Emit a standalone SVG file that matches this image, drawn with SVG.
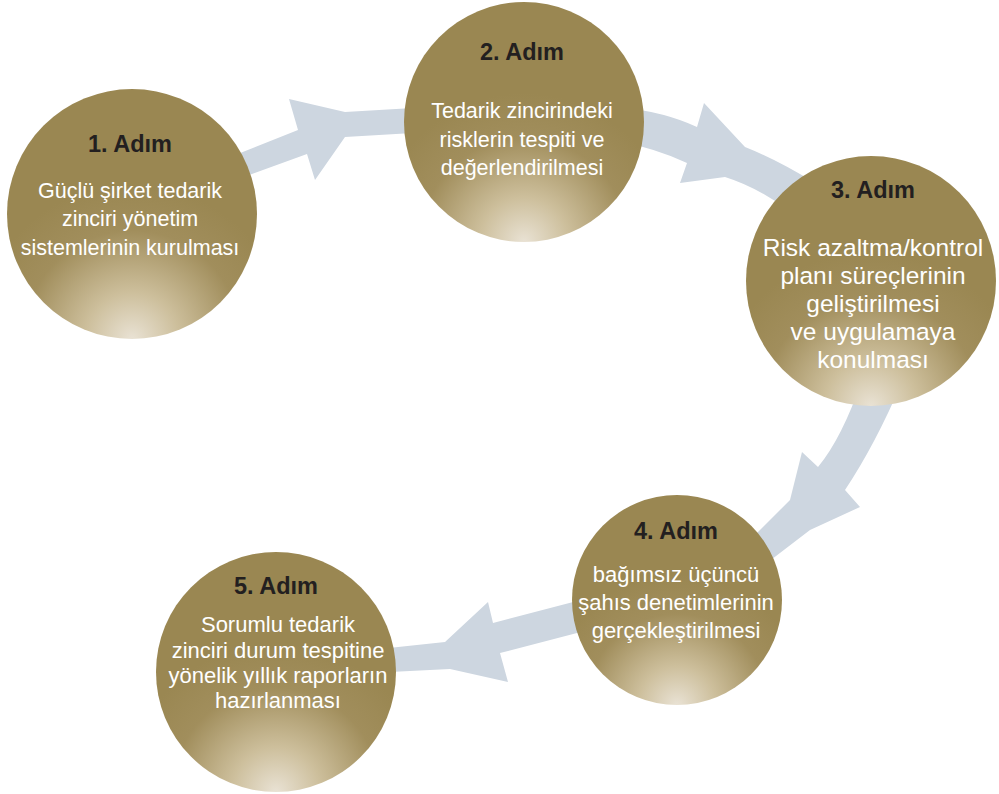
<svg xmlns="http://www.w3.org/2000/svg" width="999" height="794" viewBox="0 0 999 794">
<defs>
<radialGradient id="gold" cx="0.5" cy="1" r="0.62" fx="0.5" fy="1">
<stop offset="0" stop-color="#e9e2d4"/>
<stop offset="0.3" stop-color="#cdbf9c"/>
<stop offset="0.7" stop-color="#a18e5c"/>
<stop offset="1" stop-color="#9a8752"/>
</radialGradient>
<style>
.c{fill:url(#gold)}
.a{fill:#cdd6e0}
.t{font-family:"Liberation Sans",Arial,sans-serif;font-weight:bold;font-size:23.5px;fill:#231f20;text-anchor:middle}
.b{font-family:"Liberation Sans",Arial,sans-serif;font-size:21.5px;fill:#ffffff;text-anchor:middle}
.b3{font-size:24.5px}
.b4{font-size:22px}
</style>
</defs>
<rect width="999" height="794" fill="#ffffff"/>
<g id="connectors">
<path class="a" d="M215,163 L298,130 L289,99 L345,112 L430,107 L430,132 L345,137 L315,180 L307,154 L222,185 Z"/>
<path class="a" d="M620,107 Q665,112 697,127 L704,103 L745,147 Q778,160 815,183 L795,215 Q760,188 725,177 L680,183 L687,163 Q655,148 620,142 Z"/>
<path class="a" d="M862,380 Q842,438 818,467 L802,452 L790,500 L740,550 L750,576 L810,530 L860,507 L845,490 Q875,445 902,382 Z"/>
<path class="a" d="M600,595 L493,623 L488,602 L445,642 L370,650 L370,673 L450,669 L508,682 L500,653 L600,627 Z"/>
</g>
<g id="step1">
<circle class="c" cx="132" cy="214" r="125"/>
<text class="t" x="130" y="152">1. Adım</text>
<text class="b" x="130" y="198">Güçlü şirket tedarik</text>
<text class="b" x="130" y="226">zinciri yönetim</text>
<text class="b" x="130" y="255">sistemlerinin kurulması</text>
</g>
<g id="step2">
<circle class="c" cx="524" cy="122" r="120"/>
<text class="t" x="522" y="60">2. Adım</text>
<text class="b" x="522" y="118">Tedarik zincirindeki</text>
<text class="b" x="522" y="147">risklerin tespiti ve</text>
<text class="b" x="522" y="175">değerlendirilmesi</text>
</g>
<g id="step3">
<circle class="c" cx="871" cy="281" r="125"/>
<text class="t" x="873" y="198">3. Adım</text>
<text class="b b3" x="873" y="256">Risk azaltma/kontrol</text>
<text class="b b3" x="873" y="284">planı süreçlerinin</text>
<text class="b b3" x="873" y="312">geliştirilmesi</text>
<text class="b b3" x="873" y="340">ve uygulamaya</text>
<text class="b b3" x="873" y="368">konulması</text>
</g>
<g id="step4">
<circle class="c" cx="677" cy="600" r="105"/>
<text class="t" x="676" y="539">4. Adım</text>
<text class="b b4" x="676" y="582">bağımsız üçüncü</text>
<text class="b b4" x="676" y="610">şahıs denetimlerinin</text>
<text class="b b4" x="676" y="638">gerçekleştirilmesi</text>
</g>
<g id="step5">
<circle class="c" cx="276" cy="672" r="120"/>
<text class="t" x="276" y="594">5. Adım</text>
<text class="b b4" x="278" y="632">Sorumlu tedarik</text>
<text class="b b4" x="278" y="658">zinciri durum tespitine</text>
<text class="b b4" x="278" y="683">yönelik yıllık raporların</text>
<text class="b b4" x="278" y="708">hazırlanması</text>
</g>
</svg>
